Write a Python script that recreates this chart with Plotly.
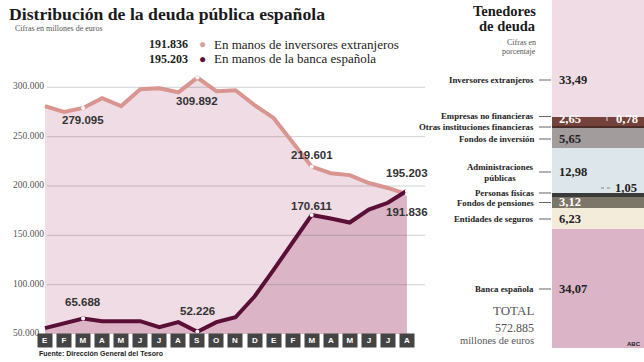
import plotly.graph_objects as go

# ---------------- data ----------------
months = ["E", "F", "M", "A", "M", "J", "J", "A", "S", "O", "N", "D",
          "E", "F", "M", "A", "M", "J", "J", "A"]
extranjeros = [281000, 275000, 279095, 289000, 281000, 298000, 299000, 295000, 309892, 296000,
               297000, 282000, 269000, 245000, 219601, 213000, 211000, 203000, 198000, 191836]
banca = [56000, 60500, 65688, 63000, 63000, 63000, 57000, 62000, 52226, 62000,
         67000, 88000, 115000, 142000, 170611, 167000, 163000, 176000, 183000, 195203]
y_ticks = [50000, 100000, 150000, 200000, 250000, 300000]
y_tick_labels = ["50.000", "100.000", "150.000", "200.000", "250.000", "300.000"]
labelled_ext = [2, 8, 14, 19]
labelled_banca = [2, 8, 14, 19]

holders = ["Inversores extranjeros", "Empresas no financieras", "Otras instituciones financieras",
           "Fondos de inversión", "Administraciones<br>públicas", "Personas físicas",
           "Fondos de pensiones", "Entidades de seguros", "Banca española"]
shares = [33.49, 2.65, 0.78, 5.65, 12.98, 1.05, 3.12, 6.23, 34.07]
share_labels = ["33,49", "2,65", "0,78", "5,65", "12,98", "1,05", "3,12", "6,23", "34,07"]
total_text = "572.885"

# ---------------- style ----------------
W, H = 644, 362
def px(x): return x / W
def py(y): return 1 - y / H

C_EXT_LINE = "#d9958f"
C_EXT_FILL = "#efdce4"
C_BAN_LINE = "#5a0f36"
C_BAN_FILL = "#dbb5c6"
seg_colors = ["#f0dce5", "#74423a", "#4a2c28", "#a29c9c", "#dde6ea",
              "#3a3a3a", "#7b7668", "#f3ecdb", "#dbb5c7"]
SERIF = "Liberation Serif"
SANS = "Liberation Sans"

xs = list(range(len(months)))
fig = go.Figure()

# fills
fig.add_trace(go.Scatter(x=xs, y=extranjeros, mode="lines", fill="tozeroy",
                         fillcolor=C_EXT_FILL, line=dict(width=0), hoverinfo="skip"))
fig.add_trace(go.Scatter(x=xs, y=banca, mode="lines", fill="tozeroy",
                         fillcolor=C_BAN_FILL, line=dict(width=0), hoverinfo="skip"))
# gridlines (drawn between fills and lines)
for v in y_ticks[1:]:
    fig.add_trace(go.Scatter(x=[0.1, 19.95], y=[v, v], mode="lines",
                             line=dict(color="rgba(90,90,90,0.28)", width=1), hoverinfo="skip"))
# lines
fig.add_trace(go.Scatter(x=xs, y=extranjeros, mode="lines",
                         line=dict(color=C_EXT_LINE, width=4), hoverinfo="skip"))
fig.add_trace(go.Scatter(x=xs, y=banca, mode="lines",
                         line=dict(color=C_BAN_LINE, width=4), hoverinfo="skip"))
# white markers on labelled points
fig.add_trace(go.Scatter(x=[xs[i] for i in labelled_ext], y=[extranjeros[i] for i in labelled_ext],
                         mode="markers", marker=dict(color="white", size=4), hoverinfo="skip"))
fig.add_trace(go.Scatter(x=[xs[i] for i in labelled_banca], y=[banca[i] for i in labelled_banca],
                         mode="markers", marker=dict(color="white", size=4), hoverinfo="skip"))

# stacked bar (right panel)
for name, val, col in zip(holders, shares, seg_colors):
    fig.add_trace(go.Bar(x=[0], y=[val], marker=dict(color=col, line=dict(width=0)),
                         width=1, xaxis="x2", yaxis="y2", hoverinfo="skip"))

ann = []
def A(text, x, y, size, color="#222", family=SERIF, xanchor="left", yanchor="middle",
      xref="paper", yref="paper", **kw):
    ann.append(dict(text=text, x=x, y=y, xref=xref, yref=yref, showarrow=False,
                    xanchor=xanchor, yanchor=yanchor,
                    font=dict(size=size, color=color, family=family), **kw))

# title block
A("<b>Distribución de la deuda pública española</b>", px(7), py(14), 17.7, "#1a1a1a")
A("Cifras en millones de euros", px(13), py(29), 8, "#555")
# legend
A("<b>" + "191.836" + "</b>", px(147), py(44), 12, "#222")
A("●", px(202), py(44), 12, "#d8a39d", xanchor="center")
A("En manos de inversores extranjeros", px(212), py(44), 13, "#222")
A("<b>" + "195.203" + "</b>", px(147), py(59), 12, "#222")
A("●", px(202), py(59), 12, C_BAN_LINE, xanchor="center")
A("En manos de la banca española", px(212), py(59), 13, "#222")

# y tick labels
for v, t in zip(y_ticks, y_tick_labels):
    A(t, px(11), v, 9.5, "#555", xref="paper", yref="y", yshift=1)

# data labels
def L(text, i, series, shift):
    A("<b>" + text + "</b>", i, series[i], 11.5, "#333", family=SANS, xanchor="center",
      xref="x", yref="y", yshift=shift)
L("279.095", 2, extranjeros, -12)
L("309.892", 8, extranjeros, -23)
L("219.601", 14, extranjeros, 12)
L("191.836", 19, extranjeros, -18)
L("65.688", 2, banca, 17)
L("52.226", 8, banca, 21)
L("170.611", 14, banca, 9)
L("195.203", 19, banca, 18)

# month boxes
for i, m in enumerate(months):
    ann.append(dict(text="<b>" + m + "</b>", x=i, y=py(340), xref="x", yref="paper",
                    showarrow=False, xanchor="center", yanchor="middle",
                    width=12, height=11, bgcolor="#444", borderpad=1,
                    font=dict(size=8, color="white", family=SANS)))
A("<b>Fuente: Dirección General del Tesoro</b>", px(37), py(353), 7, "#222", family=SANS)

# right panel header
A("<b>Tenedores</b>", px(538), py(11), 14.5, "#1a1a1a", xanchor="right")
A("<b>de deuda</b>", px(538), py(26), 14.5, "#1a1a1a", xanchor="right")
A("Cifras en", px(538), py(43), 8, "#555", xanchor="right")
A("porcentaje", px(538), py(52), 8, "#555", xanchor="right")

# holder names / values
name_y = [80, 116.5, 127, 139, 172, 193, 202.5, 219, 289]
val_pos = [(557, 80), (557, 119), (614, 119), (557, 139), (557, 172), (613, 188), (557, 202), (557, 219), (557, 289)]
val_colors = ["#222", "white", "white", "#222", "#222", "#222", "white", "#222", "#222"]
shapes = []
for name, ny, lab, (vx, vy), vc in zip(holders, name_y, share_labels, val_pos, val_colors):
    A("<b>" + name + "</b>", px(536), py(ny), 8.8, "#222", xanchor="right")
    A("<b>" + lab + "</b>", px(vx), py(vy), 12.5, vc)
    shapes.append(dict(type="line", xref="paper", yref="paper", x0=px(539), x1=px(551),
                       y0=py(ny), y1=py(ny), line=dict(color="#666", width=1)))
# small leaders inside bar
shapes.append(dict(type="line", xref="paper", yref="paper", x0=px(601), x1=px(611),
                   y0=py(188), y1=py(188), line=dict(color="#888", width=1, dash="dot")))
shapes.append(dict(type="line", xref="paper", yref="paper", x0=px(607), x1=px(612),
                   y0=py(115), y1=py(115), line=dict(color="#ddd", width=1)))
shapes.append(dict(type="line", xref="paper", yref="paper", x0=px(607), x1=px(607),
                   y0=py(115), y1=py(121), line=dict(color="#ddd", width=1)))

A("TOTAL", px(536), py(310), 13, "#555", xanchor="right")
A(total_text, px(536), py(328), 12, "#555", xanchor="right")
A("millones de euros", px(536), py(340), 10.5, "#555", xanchor="right")
A("<b>ABC</b>", px(643), py(344), 6, "#222", family=SANS, xanchor="right")

fig.update_layout(
    width=W, height=H, margin=dict(l=0, r=0, t=0, b=0),
    paper_bgcolor="white", plot_bgcolor="white", showlegend=False,
    barmode="stack", bargap=0,
    xaxis=dict(domain=[px(43.1), px(425)], range=[-0.1, 19.95], visible=False, fixedrange=True),
    yaxis=dict(domain=[py(334), py(66)], range=[50000, 321600], visible=False, fixedrange=True),
    xaxis2=dict(domain=[px(552), 1], range=[-0.5, 0.5], visible=False, anchor="y2", fixedrange=True),
    yaxis2=dict(domain=[py(348), 1], range=[sum(shares), 0], visible=False, anchor="x2", fixedrange=True),
    annotations=ann, shapes=shapes,
)
fig.write_html("out.html", config={"displayModeBar": False},
               post_script="document.body.style.margin='0';document.body.style.overflow='hidden';")
